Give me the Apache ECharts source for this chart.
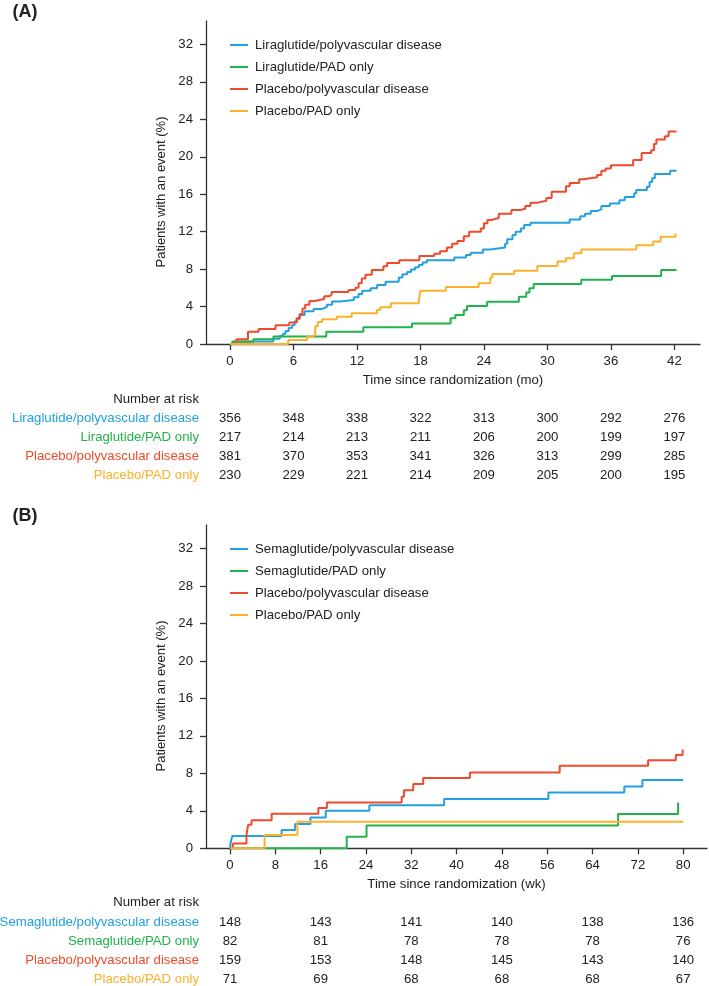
<!DOCTYPE html>
<html><head><meta charset="utf-8">
<script src="https://cdn.jsdelivr.net/npm/echarts@6.0.0/dist/echarts.min.js"></script>
<style>html,body{margin:0;padding:0;background:#fff}#c{width:709px;height:986px}</style>
</head><body><div id="c"></div>
<script>
// ---------- data ----------
const monthTicks = [0, 6, 12, 18, 24, 30, 36, 42];
const weekTicks = [0, 8, 16, 24, 32, 40, 48, 56, 64, 72, 80];
const weekRiskTimes = [0, 16, 32, 48, 64, 80];
const yTicks = [0, 4, 8, 12, 16, 20, 24, 28, 32];

const namesA = ['Liraglutide/polyvascular disease', 'Liraglutide/PAD only', 'Placebo/polyvascular disease', 'Placebo/PAD only'];
const namesB = ['Semaglutide/polyvascular disease', 'Semaglutide/PAD only', 'Placebo/polyvascular disease', 'Placebo/PAD only'];
const colors = ['#22a0e0', '#21b24b', '#ef4a2d', '#fbb12d'];

const liraPolyA = [[0,0],[0.3,0.28],[4.1,0.56],[4.7,0.85],[5.0,1.1],[5.25,1.4],[5.55,1.7],[5.85,2.0],[6.1,2.4],[6.3,2.75],[6.55,3.1],[7.05,3.5],[7.9,3.75],[8.7,3.95],[9.15,4.2],[9.65,4.55],[10.4,4.7],[11.7,5.0],[12.15,5.35],[12.5,5.7],[13.3,5.95],[13.9,6.3],[14.7,6.65],[15.95,7.1],[16.3,7.45],[16.75,7.7],[17.1,7.95],[17.5,8.2],[17.85,8.45],[18.2,8.7],[18.6,8.95],[21.2,9.25],[22.3,9.5],[22.75,9.75],[23.9,10.1],[24.6,10.3],[26.0,10.7],[26.2,11.2],[26.7,11.65],[27.0,12.0],[27.5,12.35],[27.8,12.7],[28.4,12.95],[32.1,13.3],[33.1,13.65],[33.55,13.9],[34.1,14.2],[34.7,14.4],[35.1,14.75],[35.9,15.0],[36.8,15.35],[37.3,15.7],[38.2,16.1],[38.4,16.45],[39.4,16.8],[39.65,17.3],[39.9,17.7],[40.15,18.15],[41.6,18.5],[42.2,18.5]];
const liraPadA = [[0,0],[0.2,0.25],[2.2,0.5],[4.1,0.8],[9.1,1.3],[12.6,1.8],[17.2,2.2],[20.85,2.75],[21.3,3.1],[22.1,3.6],[22.4,4.05],[24.3,4.5],[27.3,5.05],[28.0,5.5],[28.3,5.95],[28.7,6.4],[33.2,6.85],[36.1,7.25],[40.75,7.9],[42.2,7.9]];
const placPolyA = [[0,0],[0.6,0.5],[1.7,1.3],[2.7,1.6],[4.3,2.0],[5.6,2.3],[6.3,2.7],[6.6,3.2],[6.85,3.8],[7.1,4.2],[7.5,4.6],[8.0,4.8],[8.9,5.1],[9.4,5.3],[9.6,5.55],[11.2,5.77],[11.85,6.0],[12.15,6.5],[12.45,7.0],[12.8,7.4],[13.4,7.9],[14.5,8.3],[14.85,8.65],[16.0,8.95],[17.9,9.4],[19.3,9.65],[19.85,9.9],[20.5,10.3],[21.0,10.7],[21.5,11.0],[22.1,11.5],[22.6,12.0],[23.7,12.35],[24.0,12.9],[24.33,13.25],[24.7,13.45],[25.4,13.9],[26.6,14.3],[27.4,14.45],[27.9,14.75],[28.4,15.1],[29.1,15.3],[29.9,15.6],[30.4,16.25],[31.75,16.85],[32.1,17.2],[33.0,17.6],[33.4,17.8],[34.7,18.05],[35.1,18.5],[35.5,18.75],[36.0,19.1],[38.1,19.65],[38.9,20.4],[39.8,20.7],[40.07,21.35],[40.3,21.85],[41.1,22.2],[41.45,22.7],[42.2,22.7]];
const placPadA = [[0,0],[5.5,0.43],[7.27,0.78],[7.75,0.96],[8.05,1.9],[8.3,2.35],[8.7,2.65],[10.1,2.9],[11.5,3.28],[13.9,3.63],[14.2,3.92],[15.2,4.34],[17.85,4.7],[18.0,5.7],[20.4,6.1],[23.5,6.48],[24.6,7.1],[24.8,7.47],[26.85,7.83],[29.05,8.33],[30.95,8.8],[31.75,9.15],[32.5,9.68],[33.2,10.1],[38.4,10.55],[40.0,10.95],[40.7,11.45],[42.1,11.8]];

const semaPolyB = [[0,0],[0.1,0.6],[0.4,1.3],[9.1,1.95],[11.5,2.6],[14.2,3.3],[16.9,4.0],[24.6,4.6],[37.8,5.25],[56.2,5.95],[69.6,6.6],[72.8,7.3],[80.0,7.3]];
const semaPadB = [[0,0],[20.6,1.22],[24.1,2.44],[68.5,3.66],[79.1,4.88]];
const placPolyB = [[0,0],[0.5,0.5],[2.9,1.4],[3.2,2.5],[3.8,3.0],[7.35,3.7],[15.6,4.3],[17.1,4.9],[30.3,5.5],[30.7,6.2],[32.35,6.85],[34.1,7.5],[42.35,8.1],[58.2,8.8],[73.8,9.4],[78.7,9.95],[79.9,10.55]];
const placPadB = [[0,0],[6.1,1.41],[11.9,2.82],[80.0,2.82]];

const riskLiraPolyA = [356, 348, 338, 322, 313, 300, 292, 276];
const riskLiraPadA  = [217, 214, 213, 211, 206, 200, 199, 197];
const riskPlacPolyA = [381, 370, 353, 341, 326, 313, 299, 285];
const riskPlacPadA  = [230, 229, 221, 214, 209, 205, 200, 195];

const riskSemaPolyB = [148, 143, 141, 140, 138, 136];
const riskSemaPadB  = [82, 81, 78, 78, 78, 76];
const riskPlacPolyB = [159, 153, 148, 145, 143, 140];
const riskPlacPadB  = [71, 69, 68, 68, 68, 67];

// ---------- chart ----------
const FONT = "'Liberation Sans', Arial, Helvetica, sans-serif";
const FS = 13.2;
const TXT = '#222';
const AX = '#333';
const xMinA = -2.27, xMaxA = 44.42;
const xMinB = -4.24, xMaxB = 84.2;
const yMax = 34.5;
const riskOffsets = [74, 93, 112, 131];

function mainX(grid, min, max, ticks, name) {
  return {
    type: 'value', gridIndex: grid, min: min, max: max, position: 'bottom',
    axisLine: { show: true, onZero: false, lineStyle: { color: AX, width: 1.3 } },
    axisTick: { show: true, length: 6, customValues: ticks, lineStyle: { color: AX, width: 1.3 } },
    axisLabel: { customValues: ticks, margin: 11, fontSize: FS, color: TXT, fontFamily: FONT },
    splitLine: { show: false },
    name: name, nameLocation: 'middle', nameGap: 30,
    nameTextStyle: { fontSize: FS, color: TXT, fontFamily: FONT }
  };
}
function riskX(grid, min, max, times, values, label, color, offset) {
  return {
    type: 'value', gridIndex: grid, min: min, max: max, position: 'bottom', offset: offset,
    axisLine: { show: false, onZero: false }, axisTick: { show: false }, splitLine: { show: false },
    axisLabel: {
      customValues: times, margin: 0, verticalAlign: 'middle', fontSize: FS, color: TXT, fontFamily: FONT,
      formatter: function (v) { const i = times.indexOf(v); return i >= 0 ? String(values[i]) : ''; }
    },
    name: label, nameLocation: 'start', nameGap: 7,
    nameTextStyle: { color: color, fontSize: FS, fontFamily: FONT }
  };
}
function yAx(grid) {
  return {
    type: 'value', gridIndex: grid, min: 0, max: yMax,
    axisLine: { show: true, onZero: false, lineStyle: { color: AX, width: 1.3 } },
    axisTick: { show: true, length: 6, customValues: yTicks, lineStyle: { color: AX, width: 1.3 } },
    axisLabel: { customValues: yTicks, margin: 13, fontSize: FS, color: TXT, fontFamily: FONT },
    splitLine: { show: false }
  };
}
function stepSeries(name, data, color, xi, yi) {
  return {
    type: 'line', name: name, data: data, step: 'end', xAxisIndex: xi, yAxisIndex: yi,
    showSymbol: false, symbol: 'none', color: color,
    lineStyle: { color: color, width: 2 }, animation: false, silent: true
  };
}
function legendAt(names, top) {
  return {
    data: names, orient: 'vertical', left: 230, top: top, padding: 0,
    itemWidth: 18, itemHeight: 2, icon: 'rect', itemGap: 0, selectedMode: false,
    textStyle: { fontSize: FS, lineHeight: 22, color: TXT, fontFamily: FONT, padding: [0, 0, 0, 2] }
  };
}

const risksA = [riskLiraPolyA, riskLiraPadA, riskPlacPolyA, riskPlacPadA];
const risksB = [riskSemaPolyB, riskSemaPadB, riskPlacPolyB, riskPlacPadB];

const xAxes = [mainX(0, xMinA, xMaxA, monthTicks, 'Time since randomization (mo)')];
risksA.forEach((r, i) => xAxes.push(riskX(0, xMinA, xMaxA, monthTicks, r, namesA[i], colors[i], riskOffsets[i])));
xAxes.push(mainX(1, xMinB, xMaxB, weekTicks, 'Time since randomization (wk)'));
risksB.forEach((r, i) => xAxes.push(riskX(1, xMinB, xMaxB, weekRiskTimes, r, namesB[i], colors[i], riskOffsets[i])));

const dataA = [liraPolyA, liraPadA, placPolyA, placPadA];
const dataB = [semaPolyB, semaPadB, placPolyB, placPadB];
const series = [];
dataA.forEach((d, i) => series.push(stepSeries(namesA[i], d, colors[i], 0, 0)));
dataB.forEach((d, i) => series.push(stepSeries(namesB[i], d, colors[i], 5, 1)));

function txt(text, x, y, opts) {
  return Object.assign({ type: 'text', x: x, y: y, silent: true,
    style: Object.assign({ text: text, fill: TXT, font: FS + 'px ' + FONT, align: 'left', verticalAlign: 'middle' }, opts || {}) });
}

const chart = echarts.init(document.getElementById('c'), null, { renderer: 'canvas' });
chart.setOption({
  animation: false,
  backgroundColor: '#fff',
  textStyle: { fontFamily: FONT },
  grid: [
    { left: 206, top: 21, width: 494, height: 323, containLabel: false, outerBoundsMode: 'none' },
    { left: 206, top: 525, width: 501, height: 323.3, containLabel: false, outerBoundsMode: 'none' }
  ],
  xAxis: xAxes,
  yAxis: [yAx(0), yAx(1)],
  legend: [legendAt(namesA, 34), legendAt(namesB, 538)],
  series: series,
  graphic: [
    txt('(A)', 12.5, 12, { font: 'bold 18px ' + FONT }),
    txt('(B)', 12.5, 516, { font: 'bold 18px ' + FONT }),
    Object.assign(txt('Patients with an event (%)', 161, 192, { align: 'center', font: '13px ' + FONT }), { rotation: Math.PI / 2 }),
    Object.assign(txt('Patients with an event (%)', 161, 696, { align: 'center', font: '13px ' + FONT }), { rotation: Math.PI / 2 }),
    txt('Number at risk', 199, 399, { align: 'right' }),
    txt('Number at risk', 199, 902, { align: 'right' })
  ]
});
</script>
</body></html>
